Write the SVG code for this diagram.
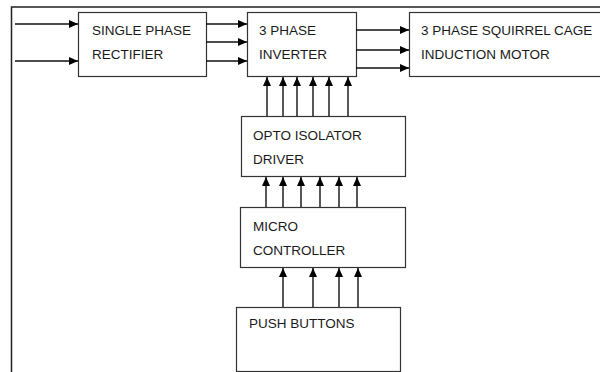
<svg xmlns="http://www.w3.org/2000/svg" width="600" height="372" viewBox="0 0 600 372">
<defs>
<marker id="ah" markerWidth="9" markerHeight="8" refX="9" refY="4" orient="auto" markerUnits="userSpaceOnUse">
<path d="M0,0 L9,4 L0,8 Z" fill="#000"/>
</marker>
<style>
.box{fill:#fff;stroke:#333;stroke-width:1.2}
.t{font-family:"Liberation Sans",Arial,sans-serif;font-size:13.5px;fill:#1a1a1a}
.c{stroke:#111;stroke-width:1.4;fill:none;marker-end:url(#ah)}
.frame{stroke:#222;stroke-width:1.5;fill:none}
</style>
</defs>
<rect width="600" height="372" fill="#fff"/>
<path class="frame" d="M11.5,372 V7 H600"/>
<g id="rectifier"><rect class="box" x="78.5" y="12.5" width="128" height="64"/><text class="t" x="92" y="35">SINGLE PHASE</text><text class="t" x="92" y="59">RECTIFIER</text></g>
<g id="inverter"><rect class="box" x="247.5" y="12.5" width="109" height="64"/><text class="t" x="259" y="35">3 PHASE</text><text class="t" x="259" y="59">INVERTER</text></g>
<g id="motor"><rect class="box" x="409.5" y="12.5" width="200" height="64"/><text class="t" x="421" y="35">3 PHASE SQUIRREL CAGE</text><text class="t" x="421" y="59">INDUCTION MOTOR</text></g>
<g id="opto"><rect class="box" x="241.5" y="116.5" width="164" height="60"/><text class="t" x="253" y="140">OPTO ISOLATOR</text><text class="t" x="253" y="164">DRIVER</text></g>
<g id="micro"><rect class="box" x="240.5" y="207.5" width="165" height="60"/><text class="t" x="253" y="231">MICRO</text><text class="t" x="253" y="255">CONTROLLER</text></g>
<g id="push"><rect class="box" x="236.5" y="307.5" width="164" height="64"/><text class="t" x="249" y="328">PUSH BUTTONS</text></g>
<g id="connectors">
<path class="c" d="M15,24 H78"/>
<path class="c" d="M15,61 H78"/>
<path class="c" d="M206,24 H247"/>
<path class="c" d="M206,42 H247"/>
<path class="c" d="M206,61 H247"/>
<path class="c" d="M356,30 H409"/>
<path class="c" d="M356,50 H409"/>
<path class="c" d="M356,68 H409"/>
<path class="c" d="M267,116 V77"/>
<path class="c" d="M283,116 V77"/>
<path class="c" d="M297,116 V77"/>
<path class="c" d="M313,116 V77"/>
<path class="c" d="M329,116 V77"/>
<path class="c" d="M348,116 V77"/>
<path class="c" d="M266,207 V177"/>
<path class="c" d="M283,207 V177"/>
<path class="c" d="M301,207 V177"/>
<path class="c" d="M320,207 V177"/>
<path class="c" d="M339,207 V177"/>
<path class="c" d="M357,207 V177"/>
<path class="c" d="M283,307 V268"/>
<path class="c" d="M313,307 V268"/>
<path class="c" d="M339,307 V268"/>
<path class="c" d="M358,307 V268"/>
</g>
</svg>
